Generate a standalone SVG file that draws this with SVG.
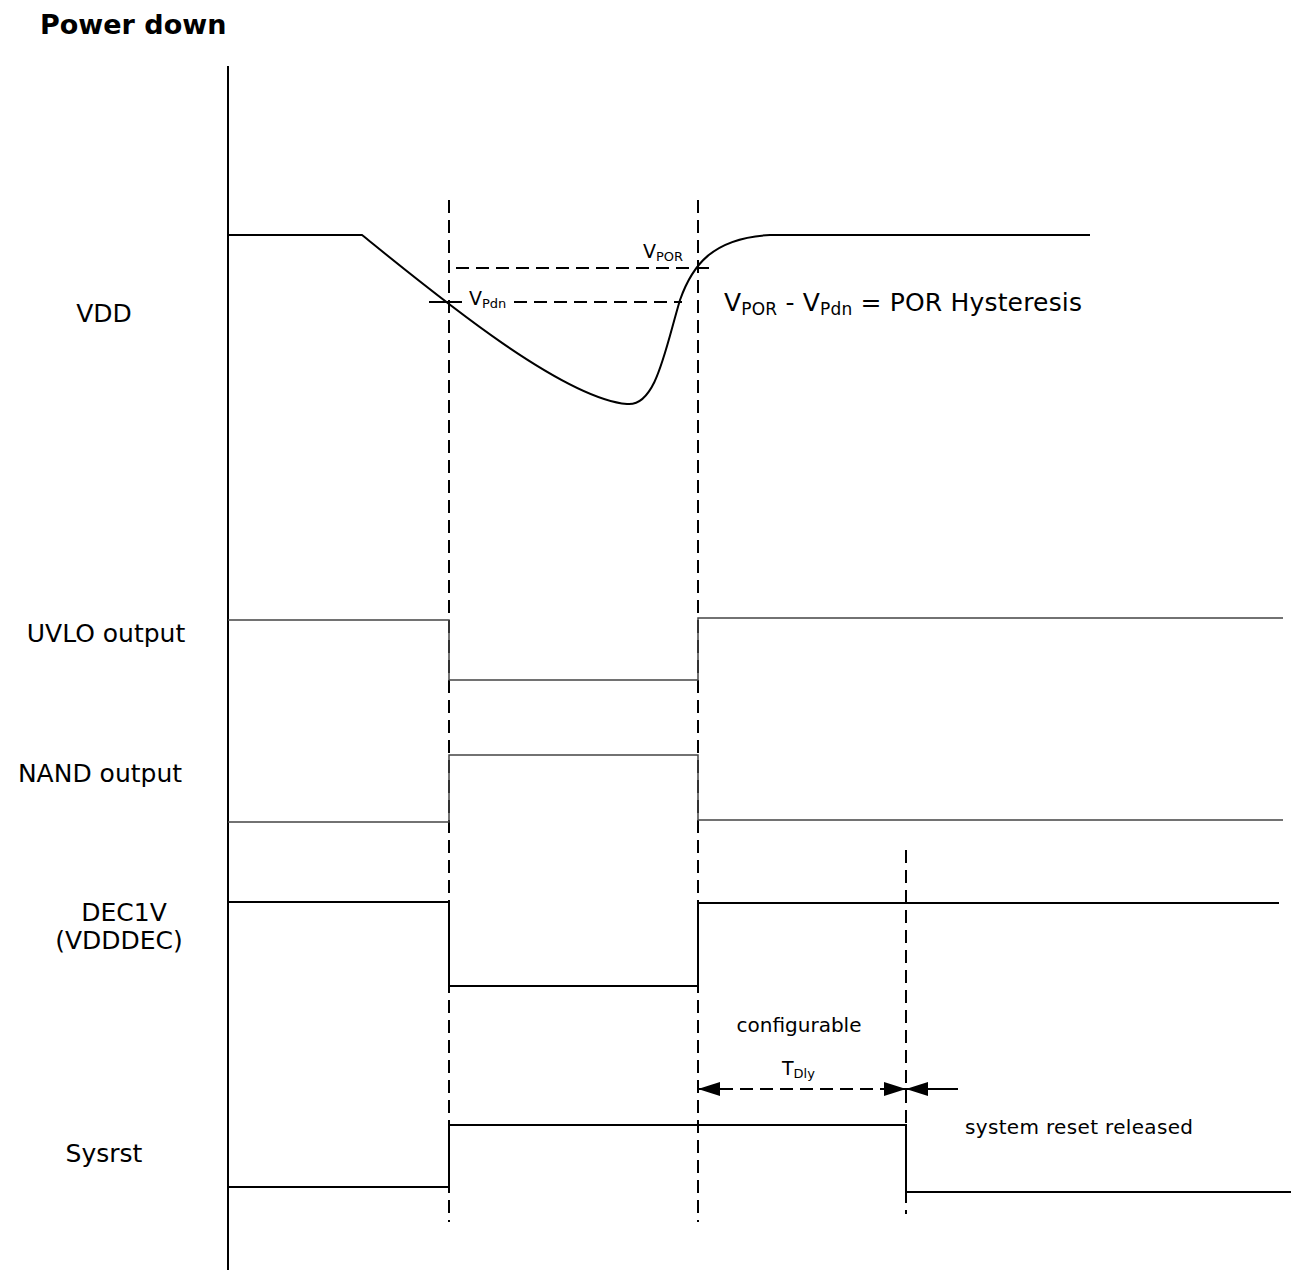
<svg xmlns="http://www.w3.org/2000/svg" width="1291" height="1270" viewBox="0 0 1291 1270">
<style>
text{font-family:"DejaVu Sans","Liberation Sans",sans-serif;fill:#000}
.lbl{font-size:25px}
.sm{font-size:20px}
.sig{fill:none;stroke:#000;stroke-width:2}
.thin{fill:none;stroke:#444;stroke-width:1.5}
.dash{fill:none;stroke:#000;stroke-width:2;stroke-dasharray:13 7}
</style>
<defs>
<marker id="ah" viewBox="0 0 22 14" refX="22" refY="7" markerWidth="22" markerHeight="14" markerUnits="userSpaceOnUse" orient="auto">
<path d="M0,0 L22,7 L0,14 Z" fill="#000"/>
</marker>
</defs>
<rect width="1291" height="1270" fill="#fff"/>
<text x="40" y="34" font-size="27" font-weight="bold">Power down</text>
<g id="axis"><line class="sig" x1="228" y1="66" x2="228" y2="1270"/></g>
<g id="labels">
<text class="lbl" x="104" y="322" text-anchor="middle">VDD</text>
<text class="lbl" x="106" y="642" text-anchor="middle">UVLO output</text>
<text class="lbl" x="100" y="782" text-anchor="middle">NAND output</text>
<text class="lbl" x="124" y="921" text-anchor="middle">DEC1V</text>
<text class="lbl" x="119" y="949" text-anchor="middle">(VDDDEC)</text>
<text class="lbl" x="104" y="1162" text-anchor="middle">Sysrst</text>
</g>
<g id="connectors">
<line class="dash" x1="449" y1="200" x2="449" y2="1222"/>
<line class="dash" x1="698" y1="200" x2="698" y2="1222"/>
<line class="dash" x1="906" y1="850" x2="906" y2="1214"/>
<line class="dash" x1="456" y1="268" x2="716" y2="268"/>
<line class="sig" x1="429" y1="302" x2="462" y2="302"/>
<line class="dash" x1="514" y1="302" x2="682" y2="302"/>
<line class="dash" x1="720" y1="1089" x2="884" y2="1089"/>
<line class="sig" x1="720" y1="1089" x2="698" y2="1089" marker-end="url(#ah)"/>
<line class="sig" x1="884" y1="1089" x2="906" y2="1089" marker-end="url(#ah)"/>
<line class="sig" x1="958" y1="1089" x2="906" y2="1089" marker-end="url(#ah)"/>
</g>
<g id="vdd">
<path class="sig" d="M228,235 L362,235 C430,290 560,398 627,404 C656,407 665,350 680,300 C692,266 712,238 770,235 L1090,235"/>
<text x="643" y="258" font-size="19">V<tspan font-size="13" dy="3">POR</tspan></text>
<text x="469" y="305" font-size="19">V<tspan font-size="13" dy="3">Pdn</tspan></text>
<text x="724" y="311" font-size="25" textLength="358">V<tspan font-size="17" dy="4">POR</tspan><tspan dy="-4"> - V</tspan><tspan font-size="17" dy="4">Pdn</tspan><tspan dy="-4"> = POR Hysteresis</tspan></text>
</g>
<g id="uvlo"><path class="thin" d="M228,620 L449,620 L449,680 L698,680 L698,618 L1283,618"/></g>
<g id="nand"><path class="thin" d="M228,822 L449,822 L449,755 L698,755 L698,820 L1283,820"/></g>
<g id="dec1v"><path class="sig" d="M228,902 L449,902 L449,986 L698,986 L698,903 L1279,903"/></g>
<g id="sysrst"><path class="sig" d="M228,1187 L449,1187 L449,1125 L906,1125 L906,1192 L1291,1192"/></g>
<g id="annot">
<text class="sm" x="799" y="1032" text-anchor="middle">configurable</text>
<text x="782" y="1075" font-size="19">T<tspan font-size="13" dy="3">Dly</tspan></text>
<text class="sm" x="965" y="1134" textLength="228">system reset released</text>
</g>
</svg>
